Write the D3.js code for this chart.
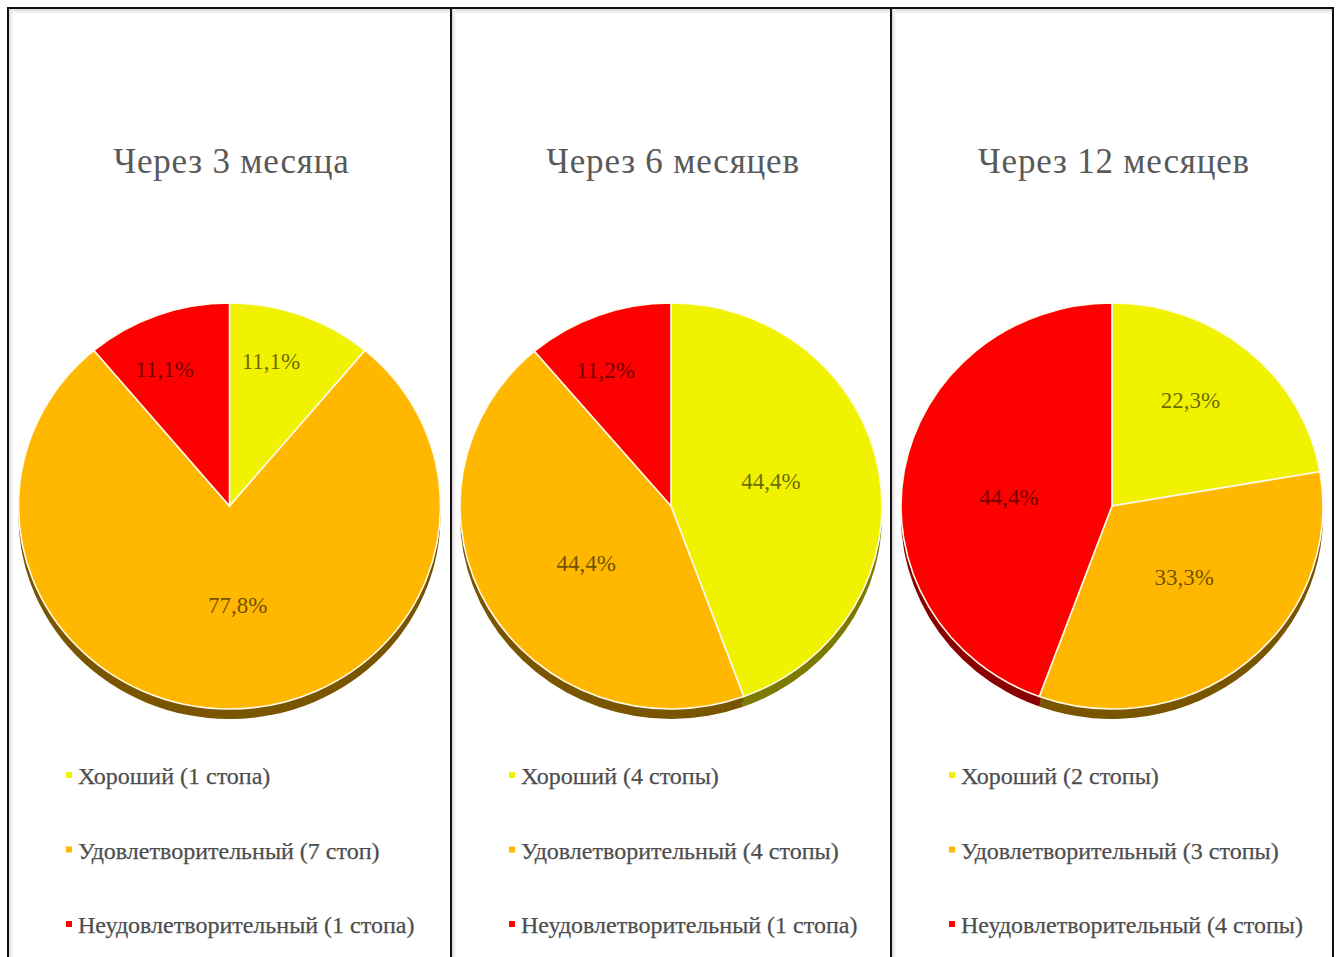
<!DOCTYPE html>
<html>
<head>
<meta charset="utf-8">
<script src="https://cdn.jsdelivr.net/npm/d3@7"></script>
<style>
  html, body { margin: 0; padding: 0; background: #fff; }
  svg { display: block; }
</style>
</head>
<body>
<svg id="chart" width="1340" height="957"></svg>
<script>
// Outcome shares per follow-up period
const titles = ["Через 3 месяца", "Через 6 месяцев", "Через 12 месяцев"];
const categories = ["Хороший", "Удовлетворительный", "Неудовлетворительный"];
const shares3m = [11.1, 77.8, 11.1];
const shares6m = [44.4, 44.4, 11.2];
const shares12m = [22.3, 33.3, 44.4];
const feet3m = ["1 стопа", "7 стоп", "1 стопа"];
const feet6m = ["4 стопы", "4 стопы", "1 стопа"];
const feet12m = ["2 стопы", "3 стопы", "4 стопы"];

const panels = [
  { title: titles[0], shares: shares3m, feet: feet3m },
  { title: titles[1], shares: shares6m, feet: feet6m },
  { title: titles[2], shares: shares12m, feet: feet12m }
];

const topColor = d3.scaleOrdinal().domain(categories).range(["#f0f200", "#ffb700", "#ff0000"]);
const sideColor = d3.scaleOrdinal().domain(categories).range(["#7d7a00", "#7a5500", "#8a0000"]);

const svg = d3.select("#chart");
const serif = "'Liberation Serif', 'Times New Roman', serif";

// frame: panel boundaries
const frameX = d3.scaleOrdinal().domain([0, 1, 2, 3]).range([8, 451, 891, 1333]);
const frameTop = 8;
const H = 957;

const defs = svg.append("defs");
const gTop = defs.append("linearGradient").attr("id", "edgeTop").attr("x1", 0).attr("y1", 0).attr("x2", 0).attr("y2", 1);
gTop.append("stop").attr("offset", 0).attr("stop-color", "#d4d4d4");
gTop.append("stop").attr("offset", 1).attr("stop-color", "#ffffff").attr("stop-opacity", 0);
const gLeft = defs.append("linearGradient").attr("id", "edgeLeft").attr("x1", 0).attr("y1", 0).attr("x2", 1).attr("y2", 0);
gLeft.append("stop").attr("offset", 0).attr("stop-color", "#d8d8d8");
gLeft.append("stop").attr("offset", 1).attr("stop-color", "#ffffff").attr("stop-opacity", 0);

panels.forEach((p, i) => {
  const x0 = frameX(i), x1 = frameX(i + 1);
  const w = x1 - x0;
  const g = svg.append("g").attr("transform", `translate(${x0},${frameTop})`);

  // faint inner edge shading
  g.append("rect").attr("x", 1).attr("y", 1).attr("width", w - 2).attr("height", 7).attr("fill", "url(#edgeTop)");
  g.append("rect").attr("x", 1).attr("y", 1).attr("width", 6).attr("height", H).attr("fill", "url(#edgeLeft)");

  const cx = w / 2;
  g.append("text")
    .attr("x", cx + 2).attr("y", 165)
    .attr("text-anchor", "middle")
    .attr("font-family", serif).attr("font-size", 35)
    .attr("letter-spacing", 0.8)
    .attr("fill", "#595959")
    .text(p.title);

  // elliptical pie with a shallow dark side
  const rx = 211, ry = 203, depth = 10, cy = 498;
  const data = categories.map((c, k) => ({ cat: c, value: p.shares[k], feet: p.feet[k] }));
  const pie = d3.pie().value(d => d.value).sort(null);
  const arcs = pie(data);
  const arc = d3.arc().innerRadius(0).outerRadius(rx);
  const sy = ry / rx;

  const side = g.append("g").attr("transform", `translate(${cx},${cy + depth}) scale(1,${sy})`);
  side.selectAll("path").data(arcs).join("path")
    .attr("d", arc)
    .attr("fill", d => sideColor(d.data.cat));
  const sideMid = g.append("g").attr("transform", `translate(${cx},${cy + depth / 2}) scale(1,${sy})`);
  sideMid.selectAll("path").data(arcs).join("path")
    .attr("d", arc)
    .attr("fill", d => sideColor(d.data.cat));

  const face = g.append("g").attr("transform", `translate(${cx},${cy}) scale(1,${sy})`);
  face.selectAll("path").data(arcs).join("path")
    .attr("d", arc)
    .attr("fill", d => topColor(d.data.cat))
    .attr("stroke", "#fffbe8")
    .attr("stroke-width", 1.6)
    .attr("vector-effect", "non-scaling-stroke");

  // value labels: small slices pushed outward, large ones nearer the middle
  const labelFrac = d => {
    const f = (d.endAngle - d.startAngle) / (2 * Math.PI);
    return f < 0.15 ? 0.74 : (f < 0.25 ? 0.64 : 0.49);
  };
  g.selectAll("text.val").data(arcs).join("text")
    .attr("class", "val")
    .attr("x", d => cx + Math.sin((d.startAngle + d.endAngle) / 2 - 0.08) * rx * labelFrac(d))
    .attr("y", d => cy - Math.cos((d.startAngle + d.endAngle) / 2 - 0.08) * ry * labelFrac(d))
    .attr("dy", "0.35em")
    .attr("text-anchor", "middle")
    .attr("font-family", serif).attr("font-size", 23)
    .attr("fill", "#000").attr("fill-opacity", 0.58)
    .text(d => d3.format(".1f")(d.data.value).replace(".", ",") + "%");

  // legend
  const legY = d3.scalePoint().domain(categories).range([768, 917]);
  const leg = g.selectAll("g.leg").data(data).join("g").attr("class", "leg")
    .attr("transform", d => `translate(${58},${legY(d.cat)})`);
  leg.append("rect").attr("x", 0).attr("y", -4).attr("width", 6).attr("height", 6)
    .attr("fill", d => topColor(d.cat));
  leg.append("text").attr("x", 12).attr("y", 0).attr("dy", "0.35em")
    .attr("font-family", serif).attr("font-size", 24)
    .attr("fill", "#4d4d4d")
    .attr("stroke", "#4d4d4d").attr("stroke-width", 0.25)
    .text(d => `${d.cat} (${d.feet})`);
});

// frame lines
svg.append("path")
  .attr("d", `M${frameX(0)},${H} V${frameTop} H${frameX(3)} V${H}`)
  .attr("fill", "none").attr("stroke", "#111").attr("stroke-width", 2);
[1, 2].forEach(i => {
  svg.append("line").attr("x1", frameX(i)).attr("x2", frameX(i))
    .attr("y1", frameTop).attr("y2", H)
    .attr("stroke", "#111").attr("stroke-width", 2);
});
</script>
</body>
</html>
